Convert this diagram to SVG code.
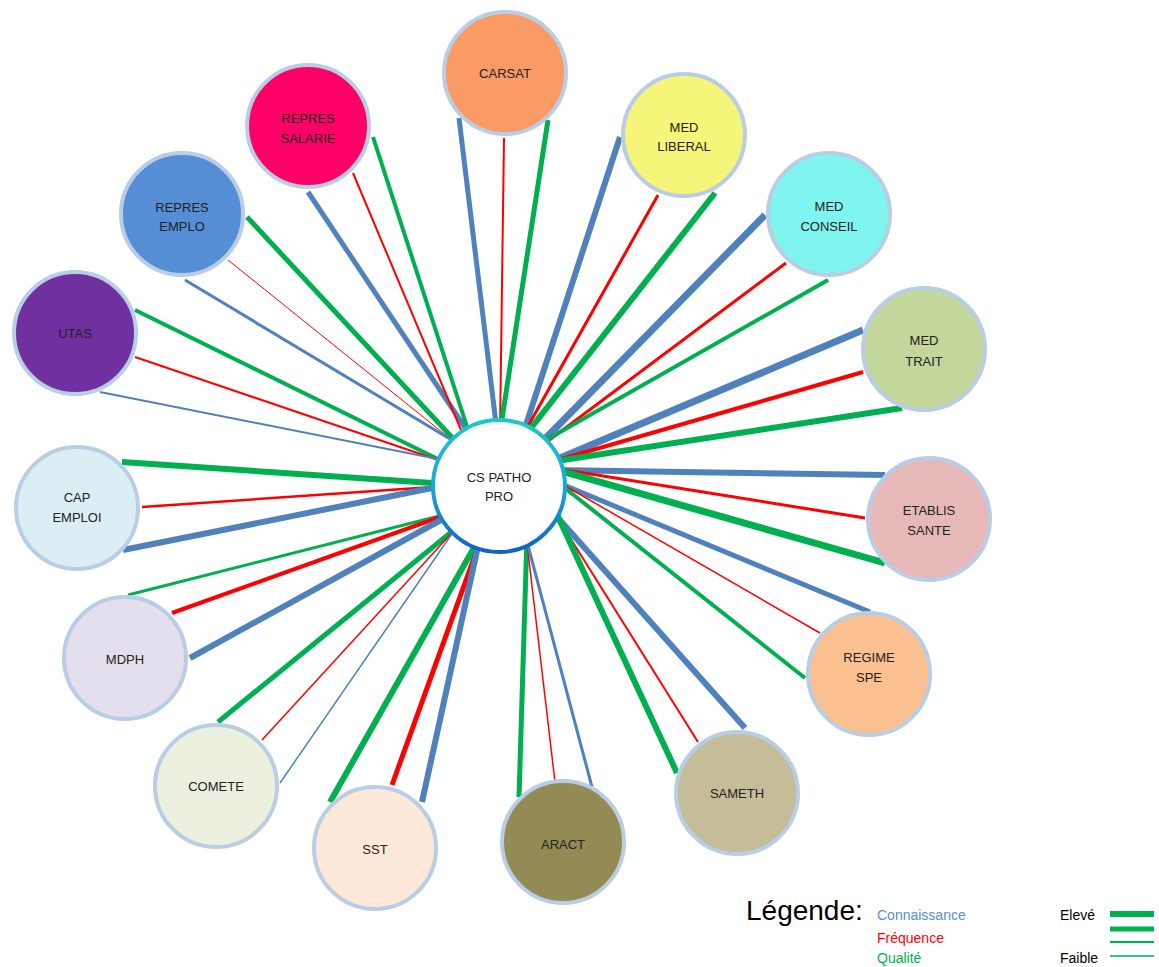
<svg xmlns="http://www.w3.org/2000/svg" width="1159" height="967" viewBox="0 0 1159 967">
<defs>
<linearGradient id="ring" x1="0" y1="0" x2="0" y2="1">
<stop offset="0" stop-color="#1FC8C6"/>
<stop offset="0.5" stop-color="#19A9D6"/>
<stop offset="1" stop-color="#0E62C6"/>
</linearGradient>
<style>
.b{stroke:#4F81BD;fill:none}
.r{stroke:#FF0000;fill:none}
.g{stroke:#00B050;fill:none}
.node circle{stroke:#B9CDE5;stroke-width:4}
.lbl{font-family:"Liberation Sans",Arial,sans-serif;font-size:13px;fill:#222;text-anchor:middle}
.leg{font-family:"Liberation Sans",Arial,sans-serif;font-size:14px}
</style>
</defs>
<rect width="1159" height="967" fill="#FFFFFF"/>
<g id="connectors">
<!-- CARSAT -->
<line class="b" x1="459" y1="118" x2="497" y2="432" stroke-width="5"/>
<line class="r" x1="504" y1="138" x2="500" y2="432" stroke-width="2"/>
<line class="g" x1="548" y1="120" x2="500" y2="432" stroke-width="5"/>
<!-- MED LIBERAL -->
<line class="b" x1="620" y1="137" x2="523" y2="434" stroke-width="6"/>
<line class="r" x1="658" y1="195" x2="523" y2="435" stroke-width="3"/>
<line class="g" x1="715" y1="193" x2="524" y2="437" stroke-width="6"/>
<!-- MED CONSEIL -->
<line class="b" x1="765" y1="215" x2="540" y2="444" stroke-width="7"/>
<line class="r" x1="786" y1="263" x2="540" y2="447" stroke-width="3"/>
<line class="g" x1="828" y1="280" x2="539" y2="444" stroke-width="4"/>
<!-- MED TRAIT -->
<line class="b" x1="863" y1="330" x2="553" y2="461" stroke-width="7"/>
<line class="r" x1="863" y1="372" x2="551" y2="462" stroke-width="4"/>
<line class="g" x1="902" y1="408" x2="550" y2="462" stroke-width="6"/>
<!-- ETABLIS SANTE -->
<line class="b" x1="885" y1="475" x2="552" y2="470" stroke-width="6"/>
<line class="r" x1="865" y1="518" x2="553" y2="468" stroke-width="3"/>
<line class="g" x1="885" y1="563" x2="554" y2="469" stroke-width="7"/>
<!-- REGIME SPE -->
<line class="b" x1="870" y1="612" x2="554" y2="481" stroke-width="5"/>
<line class="r" x1="820" y1="633" x2="555" y2="480" stroke-width="1.5"/>
<line class="g" x1="805" y1="678" x2="556" y2="481" stroke-width="4"/>
<!-- SAMETH -->
<line class="b" x1="745" y1="728" x2="550" y2="509" stroke-width="6"/>
<line class="r" x1="698" y1="742" x2="552" y2="509" stroke-width="2"/>
<line class="g" x1="677" y1="773" x2="554" y2="508" stroke-width="6"/>
<!-- ARACT -->
<line class="g" x1="519" y1="797" x2="527" y2="535" stroke-width="5"/>
<line class="r" x1="555" y1="782" x2="526" y2="535" stroke-width="1.5"/>
<line class="b" x1="592" y1="787" x2="526" y2="538" stroke-width="3"/>
<!-- SST -->
<line class="g" x1="330" y1="802" x2="480" y2="537" stroke-width="6"/>
<line class="r" x1="392" y1="785" x2="482" y2="536" stroke-width="5"/>
<line class="b" x1="422" y1="802" x2="480" y2="537" stroke-width="6"/>
<!-- COMETE -->
<line class="g" x1="218" y1="722" x2="460" y2="525" stroke-width="5"/>
<line class="r" x1="262" y1="740" x2="460" y2="524" stroke-width="1.5"/>
<line class="b" x1="280" y1="783" x2="458" y2="525" stroke-width="1.5"/>
<!-- MDPH -->
<line class="g" x1="128" y1="595" x2="451" y2="513" stroke-width="3"/>
<line class="r" x1="172" y1="613" x2="451" y2="513" stroke-width="4"/>
<line class="b" x1="190" y1="658" x2="450" y2="515" stroke-width="6"/>
<!-- CAP EMPLOI -->
<line class="g" x1="122" y1="462" x2="447" y2="484" stroke-width="6"/>
<line class="r" x1="142" y1="507" x2="447" y2="486" stroke-width="2.5"/>
<line class="b" x1="123" y1="550" x2="447" y2="485" stroke-width="6"/>
<!-- UTAS -->
<line class="g" x1="135" y1="310" x2="448" y2="464" stroke-width="4"/>
<line class="r" x1="135" y1="357" x2="447" y2="463" stroke-width="2"/>
<line class="b" x1="100" y1="392" x2="448" y2="461" stroke-width="2"/>
<!-- REPRES EMPLO -->
<line class="g" x1="247" y1="217" x2="460" y2="446" stroke-width="5"/>
<line class="r" x1="228" y1="260" x2="458" y2="445" stroke-width="1"/>
<line class="b" x1="185" y1="280" x2="460" y2="445" stroke-width="3"/>
<!-- REPRES SALARIE -->
<line class="b" x1="308" y1="192" x2="468" y2="432" stroke-width="5"/>
<line class="r" x1="353" y1="173" x2="464" y2="437" stroke-width="2"/>
<line class="g" x1="373" y1="137" x2="470" y2="436" stroke-width="4"/>
</g>
<g id="node-carsat" class="node"><circle cx="505" cy="73" r="61" fill="#FA9A64"/><text class="lbl" x="505" y="78">CARSAT</text></g>
<g id="node-med-liberal" class="node"><circle cx="684" cy="135" r="61" fill="#F5F57A"/><text class="lbl" x="684" y="132">MED</text><text class="lbl" x="684" y="151">LIBERAL</text></g>
<g id="node-med-conseil" class="node"><circle cx="829" cy="214" r="61" fill="#7FF5F0"/><text class="lbl" x="829" y="211">MED</text><text class="lbl" x="829" y="231">CONSEIL</text></g>
<g id="node-med-trait" class="node"><circle cx="924" cy="349" r="61" fill="#C3D69B"/><text class="lbl" x="924" y="345">MED</text><text class="lbl" x="924" y="366">TRAIT</text></g>
<g id="node-etablis-sante" class="node"><circle cx="929" cy="519" r="61" fill="#E6B9B8"/><text class="lbl" x="929" y="515">ETABLIS</text><text class="lbl" x="929" y="535">SANTE</text></g>
<g id="node-regime-spe" class="node"><circle cx="869" cy="674" r="61" fill="#FAC090"/><text class="lbl" x="869" y="662">REGIME</text><text class="lbl" x="869" y="682">SPE</text></g>
<g id="node-sameth" class="node"><circle cx="737" cy="793" r="61" fill="#C4BD97"/><text class="lbl" x="737" y="798">SAMETH</text></g>
<g id="node-aract" class="node"><circle cx="563" cy="842" r="61" fill="#948A54"/><text class="lbl" x="563" y="849">ARACT</text></g>
<g id="node-sst" class="node"><circle cx="375" cy="848" r="61" fill="#FDE9D9"/><text class="lbl" x="375" y="854">SST</text></g>
<g id="node-comete" class="node"><circle cx="216" cy="786" r="61" fill="#EBF1DE"/><text class="lbl" x="216" y="791">COMETE</text></g>
<g id="node-mdph" class="node"><circle cx="125" cy="658" r="61" fill="#E4DFEC"/><text class="lbl" x="125" y="664">MDPH</text></g>
<g id="node-cap-emploi" class="node"><circle cx="77" cy="508" r="61" fill="#DAEEF3"/><text class="lbl" x="77" y="502">CAP</text><text class="lbl" x="77" y="522">EMPLOI</text></g>
<g id="node-utas" class="node"><circle cx="75" cy="333" r="61" fill="#7030A0"/><text class="lbl" x="75" y="338">UTAS</text></g>
<g id="node-repres-emplo" class="node"><circle cx="182" cy="214" r="61" fill="#558ED5"/><text class="lbl" x="182" y="212">REPRES</text><text class="lbl" x="182" y="231">EMPLO</text></g>
<g id="node-repres-salarie" class="node"><circle cx="308" cy="126" r="61" fill="#FF0066"/><text class="lbl" x="308" y="123">REPRES</text><text class="lbl" x="308" y="143">SALARIE</text></g>
<g id="node-center">
<circle cx="499" cy="486" r="66" fill="#FFFFFF" stroke="url(#ring)" stroke-width="4"/>
<text class="lbl" x="499" y="482">CS PATHO</text>
<text class="lbl" x="499" y="501">PRO</text>
</g>
<g id="legend">
<text x="746" y="920" font-family="Liberation Sans, Arial, sans-serif" font-size="28" fill="#000">Légende:</text>
<text class="leg" x="877" y="920" fill="#558ED5">Connaissance</text>
<text class="leg" x="877" y="943" fill="#FF0000">Fréquence</text>
<text class="leg" x="877" y="963" fill="#00B050">Qualité</text>
<text class="leg" x="1060" y="920" fill="#000">Elevé</text>
<text class="leg" x="1060" y="963" fill="#000">Faible</text>
<line class="g" x1="1110" y1="914" x2="1154" y2="914" stroke-width="6"/>
<line class="g" x1="1110" y1="929" x2="1154" y2="929" stroke-width="5"/>
<line class="g" x1="1110" y1="942" x2="1154" y2="942" stroke-width="2"/>
<line class="g" x1="1110" y1="956" x2="1154" y2="956" stroke-width="1.5"/>
</g>
</svg>
